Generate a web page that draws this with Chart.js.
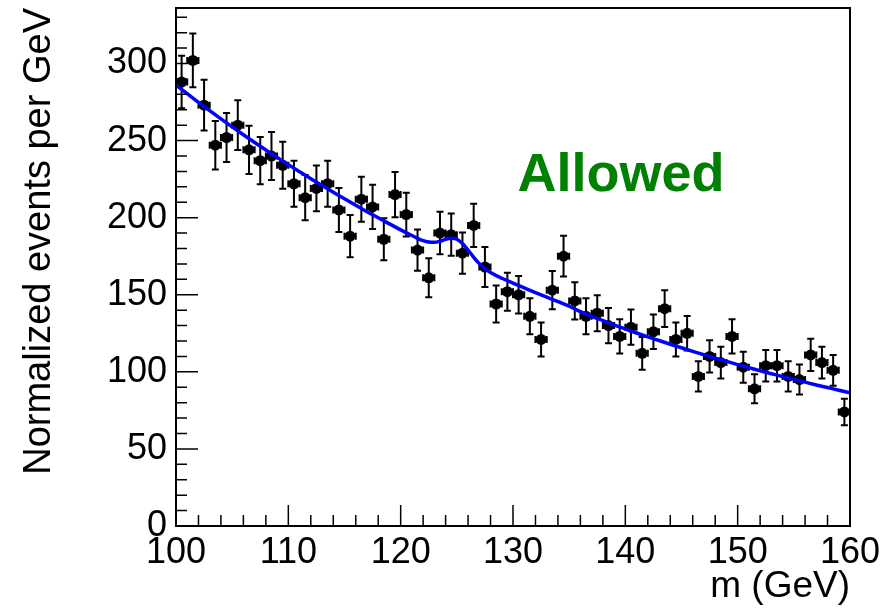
<!DOCTYPE html>
<html><head><meta charset="utf-8">
<script src="https://cdn.jsdelivr.net/npm/chart.js@4/dist/chart.umd.min.js"></script>
<style>html,body{margin:0;padding:0;background:#fff}#wrap{width:884px;height:609px}</style>
</head><body><div id="wrap"><canvas id="c" width="884" height="609"></canvas></div>
<script>
// ---- data ----
const binCenters = [100.5,101.5,102.5,103.5,104.5,105.5,106.5,107.5,108.5,109.5,
  110.5,111.5,112.5,113.5,114.5,115.5,116.5,117.5,118.5,119.5,
  120.5,121.5,122.5,123.5,124.5,125.5,126.5,127.5,128.5,129.5,
  130.5,131.5,132.5,133.5,134.5,135.5,136.5,137.5,138.5,139.5,
  140.5,141.5,142.5,143.5,144.5,145.5,146.5,147.5,148.5,149.5,
  150.5,151.5,152.5,153.5,154.5,155.5,156.5,157.5,158.5,159.5];
const eventCounts = [288,302,273,247,252,260,244,237,240,234,
  222,213,219,222,205,188,212,207,186,215,
  202,179,161,190,189,177,195,168,144,152,
  150,136,121,153,175,146,136,138,130,123,
  129,112,126,141,121,125,97,110,106,123,
  103,89,104,104,97,95,111,106,101,74];
const eventErrors = [17.0,17.4,16.5,15.7,15.9,16.1,15.6,15.4,15.5,15.3,
  14.9,14.6,14.8,14.9,14.3,13.7,14.6,14.4,13.6,14.7,
  14.2,13.4,12.7,13.8,13.7,13.3,14.0,13.0,12.0,12.3,
  12.2,11.7,11.0,12.4,13.2,12.1,11.7,11.7,11.4,11.1,
  11.4,10.6,11.2,11.9,11.0,11.2,9.8,10.5,10.3,11.1,
  10.1,9.4,10.2,10.2,9.8,9.7,10.5,10.3,10.0,8.6];
const fitMass = [100,101,102,103,104,105,106,107,108,109,110,111,112,113,114,115,116,117,118,119,120,121,
  121.5,122,122.5,123,123.5,124,124.5,125,125.5,126,126.5,127,127.5,128,
  129,130,131,132,133,134,135,136,137,138,139,140,141,142,143,144,145,146,147,148,149,150,
  151,152,153,154,155,156,157,158,159,160];
const fitValues = [286,280.4,274.8,269.4,264.1,258.9,253.8,248.8,243.9,239.1,234.4,229.8,225.3,220.8,216.5,212.2,208.0,203.9,199.9,196.0,192.1,188.4,
  186.6,185.1,184.2,184.0,184.7,186.0,186.6,186.0,183.2,179.0,174.3,170.2,166.9,164.4,
  160.7,157.5,154.4,151.4,148.4,145.5,142.6,139.0,136.0,133.2,130.4,127.8,125.2,122.7,120.3,117.9,115.6,113.3,111.1,108.9,106.8,104.7,
  102.7,100.7,98.8,96.9,95.1,93.3,91.5,89.8,88.1,86.4];
const xTicks = [100,110,120,130,140,150,160];
const xMinorTicks = [102,104,106,108,112,114,116,118,122,124,126,128,132,134,136,138,142,144,146,148,152,154,156,158];
const yTicks = [0,50,100,150,200,250,300];
const yMinorTicks = [10,20,30,40,60,70,80,90,110,120,130,140,160,170,180,190,210,220,230,240,260,270,280,290,310,320,330];
const annotationText = 'Allowed';
const xTitle = 'm (GeV)';
const yTitle = 'Normalized events per GeV';

const FONT = '"Liberation Sans", Arial, Helvetica, sans-serif';

const rootStyle = {
  id: 'rootStyle',
  beforeDatasetsDraw(chart) {
    const {ctx, scales: {x, y}} = chart;
    ctx.save();
    ctx.strokeStyle = '#000';
    ctx.lineWidth = 2;
    const cap = 3.5;
    binCenters.forEach((c, i) => {
      const px = x.getPixelForValue(c);
      const py = y.getPixelForValue(eventCounts[i]);
      const pT = y.getPixelForValue(eventCounts[i] + eventErrors[i]);
      const pB = y.getPixelForValue(eventCounts[i] - eventErrors[i]);
      const pL = x.getPixelForValue(c - 0.5);
      const pR = x.getPixelForValue(c + 0.5);
      ctx.beginPath();
      ctx.moveTo(px, pT); ctx.lineTo(px, pB);
      ctx.moveTo(pL, py); ctx.lineTo(pR, py);
      ctx.moveTo(px - cap, pT); ctx.lineTo(px + cap, pT);
      ctx.moveTo(px - cap, pB); ctx.lineTo(px + cap, pB);
      ctx.moveTo(pL, py - cap); ctx.lineTo(pL, py + cap);
      ctx.moveTo(pR, py - cap); ctx.lineTo(pR, py + cap);
      ctx.stroke();
    });
    ctx.restore();
  },
  afterDraw(chart) {
    const {ctx, chartArea: a, scales: {x, y}} = chart;
    ctx.save();
    ctx.strokeStyle = '#000';
    ctx.lineWidth = 2;
    ctx.strokeRect(a.left, a.top, a.right - a.left, a.bottom - a.top);
    ctx.lineWidth = 1.5;
    ctx.beginPath();
    xTicks.forEach(v => { const p = x.getPixelForValue(v); ctx.moveTo(p, a.bottom); ctx.lineTo(p, a.bottom - 21); });
    xMinorTicks.forEach(v => { const p = x.getPixelForValue(v); ctx.moveTo(p, a.bottom); ctx.lineTo(p, a.bottom - 11); });
    yTicks.forEach(v => { const p = y.getPixelForValue(v); ctx.moveTo(a.left, p); ctx.lineTo(a.left + 22, p); });
    yMinorTicks.forEach(v => { const p = y.getPixelForValue(v); ctx.moveTo(a.left, p); ctx.lineTo(a.left + 11, p); });
    ctx.stroke();
    ctx.fillStyle = '#008000';
    ctx.font = 'bold 54px ' + FONT;
    ctx.textAlign = 'left';
    ctx.textBaseline = 'alphabetic';
    ctx.fillText(annotationText, x.getPixelForValue(130.4), y.getPixelForValue(217.5));
    ctx.restore();
  }
};

new Chart(document.getElementById('c'), {
  data: {
    datasets: [
      {
        type: 'line',
        label: 'fit',
        data: fitMass.map((m, i) => ({x: m, y: fitValues[i]})),
        borderColor: '#0000ff',
        borderWidth: 3.5,
        pointRadius: 0,
        cubicInterpolationMode: 'monotone',
        fill: false,
        order: 1
      },
      {
        type: 'scatter',
        label: 'data',
        data: binCenters.map((c, i) => ({x: c, y: eventCounts[i]})),
        backgroundColor: '#000',
        borderColor: '#000',
        pointRadius: 5.5,
        pointBorderWidth: 0,
        order: 2
      }
    ]
  },
  options: {
    responsive: false,
    devicePixelRatio: 1,
    animation: false,
    layout: {padding: {left: 0, top: 8, right: 34, bottom: 0}},
    plugins: {legend: {display: false}, tooltip: {enabled: false}},
    scales: {
      x: {
        type: 'linear', min: 100, max: 160,
        afterFit: s => { s.height = 83; s.paddingLeft = 0; s.paddingRight = 0; },
        afterBuildTicks: s => { s.ticks = xTicks.map(v => ({value: v})); },
        grid: {display: false, drawTicks: false},
        border: {display: false},
        ticks: {color: '#000', padding: 5, maxRotation: 0, autoSkip: false, font: {family: FONT, size: 36}},
        title: {display: true, text: xTitle, align: 'end', color: '#000', padding: {top: 0, bottom: 0}, font: {family: FONT, size: 37}}
      },
      y: {
        type: 'linear', min: 0, max: 336,
        afterFit: s => { s.width = 176; s.paddingTop = 0; s.paddingBottom = 0; },
        afterBuildTicks: s => { s.ticks = yTicks.map(v => ({value: v})); },
        grid: {display: false, drawTicks: false},
        border: {display: false},
        ticks: {color: '#000', padding: 9, autoSkip: false, font: {family: FONT, size: 36}},
        title: {display: true, text: yTitle, align: 'end', color: '#000', padding: {top: 17, bottom: 0}, font: {family: FONT, size: 38}}
      }
    }
  },
  plugins: [rootStyle]
});
</script>
</body></html>
